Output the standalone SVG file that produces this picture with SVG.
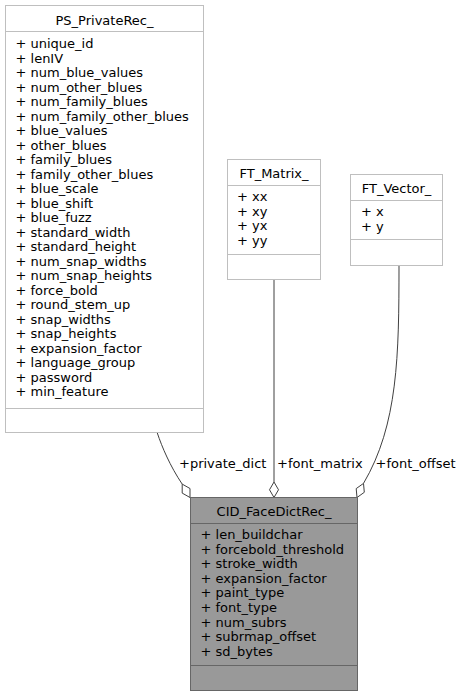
<svg xmlns="http://www.w3.org/2000/svg" width="462" height="697" viewBox="0 0 462 697">
<style>
.box{fill:#ffffff;stroke:#bfbfbf;stroke-width:1}
.main{fill:#999999;stroke:#666666;stroke-width:1}
.sepl{stroke:#bfbfbf;stroke-width:1}
.sepm{stroke:#666666;stroke-width:1}
text{font-family:"DejaVu Sans","Liberation Sans",sans-serif;font-size:13px;fill:#000000}
.t{text-anchor:middle}
.edge{fill:none;stroke:#404040;stroke-width:1}
.dia{fill:#ffffff;stroke:#404040;stroke-width:1}
</style>
<rect width="462" height="697" fill="#ffffff"/>
<g id="connectors">
<path class="edge" d="M157.3,433 C162,447 170,466 182.2,484.1"/>
<polygon class="dia" points="182.2,484.1 182.2,493.1 190,497.5 190,488.5"/>
<path class="edge" d="M274,280 L274,482"/>
<polygon class="dia" points="274,482 269.5,489.75 274,497.5 278.5,489.75"/>
<path class="edge" d="M399,265.5 C399,355 398,425 363.5,483.4"/>
<polygon class="dia" points="363.5,483.4 356.2,488.6 357,497.5 364.3,492.3"/>
<text x="179" y="468">+private_dict</text>
<text x="277" y="468">+font_matrix</text>
<text x="375.5" y="468">+font_offset</text>
</g>
<g id="PS_PrivateRec_">
<rect class="box" x="5.5" y="5.5" width="198" height="427"/>
<line class="sepl" x1="5.5" y1="31.5" x2="203.5" y2="31.5"/>
<line class="sepl" x1="5.5" y1="408.5" x2="203.5" y2="408.5"/>
<text class="t" x="104.5" y="24.5">PS_PrivateRec_</text>
<text x="15.5" y="48.3">+ unique_id</text>
<text x="15.5" y="62.8">+ lenIV</text>
<text x="15.5" y="77.3">+ num_blue_values</text>
<text x="15.5" y="91.8">+ num_other_blues</text>
<text x="15.5" y="106.3">+ num_family_blues</text>
<text x="15.5" y="120.8">+ num_family_other_blues</text>
<text x="15.5" y="135.3">+ blue_values</text>
<text x="15.5" y="149.8">+ other_blues</text>
<text x="15.5" y="164.3">+ family_blues</text>
<text x="15.5" y="178.8">+ family_other_blues</text>
<text x="15.5" y="193.3">+ blue_scale</text>
<text x="15.5" y="207.8">+ blue_shift</text>
<text x="15.5" y="222.3">+ blue_fuzz</text>
<text x="15.5" y="236.8">+ standard_width</text>
<text x="15.5" y="251.3">+ standard_height</text>
<text x="15.5" y="265.8">+ num_snap_widths</text>
<text x="15.5" y="280.3">+ num_snap_heights</text>
<text x="15.5" y="294.8">+ force_bold</text>
<text x="15.5" y="309.3">+ round_stem_up</text>
<text x="15.5" y="323.8">+ snap_widths</text>
<text x="15.5" y="338.3">+ snap_heights</text>
<text x="15.5" y="352.8">+ expansion_factor</text>
<text x="15.5" y="367.3">+ language_group</text>
<text x="15.5" y="381.8">+ password</text>
<text x="15.5" y="396.3">+ min_feature</text>
</g>
<g id="FT_Matrix_">
<rect class="box" x="227.5" y="159.5" width="93" height="120"/>
<line class="sepl" x1="227.5" y1="185.5" x2="320.5" y2="185.5"/>
<line class="sepl" x1="227.5" y1="254.5" x2="320.5" y2="254.5"/>
<text class="t" x="274" y="177.5">FT_Matrix_</text>
<text x="237" y="201">+ xx</text>
<text x="237" y="215.5">+ xy</text>
<text x="237" y="230">+ yx</text>
<text x="237" y="244.5">+ yy</text>
</g>
<g id="FT_Vector_">
<rect class="box" x="350.5" y="174.5" width="92" height="91"/>
<line class="sepl" x1="350.5" y1="200.5" x2="442.5" y2="200.5"/>
<line class="sepl" x1="350.5" y1="239.5" x2="442.5" y2="239.5"/>
<text class="t" x="396.5" y="192.5">FT_Vector_</text>
<text x="361" y="216">+ x</text>
<text x="361" y="230.5">+ y</text>
</g>
<g id="CID_FaceDictRec_">
<rect class="main" x="190.5" y="497.5" width="167" height="193"/>
<line class="sepm" x1="190.5" y1="523.5" x2="357.5" y2="523.5"/>
<line class="sepm" x1="190.5" y1="665.5" x2="357.5" y2="665.5"/>
<text class="t" x="274" y="515.5">CID_FaceDictRec_</text>
<text x="200.5" y="539">+ len_buildchar</text>
<text x="200.5" y="553.6">+ forcebold_threshold</text>
<text x="200.5" y="568.2">+ stroke_width</text>
<text x="200.5" y="582.8">+ expansion_factor</text>
<text x="200.5" y="597.4">+ paint_type</text>
<text x="200.5" y="612">+ font_type</text>
<text x="200.5" y="626.6">+ num_subrs</text>
<text x="200.5" y="641.2">+ subrmap_offset</text>
<text x="200.5" y="655.8">+ sd_bytes</text>
</g>
</svg>
